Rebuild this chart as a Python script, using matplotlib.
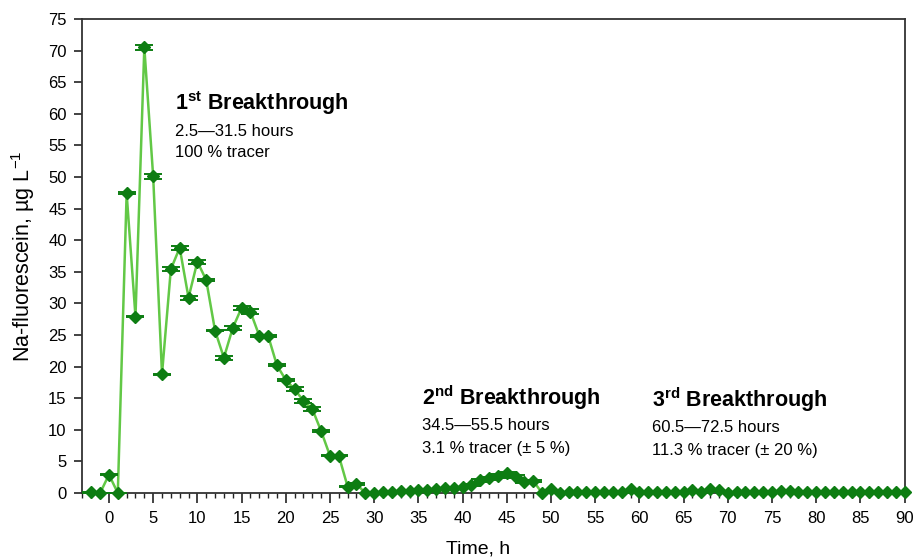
import matplotlib
matplotlib.use("Agg")
import matplotlib.pyplot as plt
from matplotlib.ticker import MultipleLocator

plt.rcParams['font.family'] = ['Liberation Sans', 'DejaVu Sans']
plt.rcParams['mathtext.fontset'] = 'custom'
plt.rcParams['mathtext.rm'] = 'Liberation Sans'
plt.rcParams['mathtext.bf'] = 'Liberation Sans:bold'

# Sampling times (h)
times = [-2, -1, 0, 1, 2, 3, 4, 5, 6, 7, 8, 9, 10, 11, 12, 13, 14, 15, 16, 17,
         18, 19, 20, 21, 22, 23, 24, 25, 26, 27, 28, 29, 30, 31, 32, 33, 34, 35,
         36, 37, 38, 39, 40, 41, 42, 43, 44, 45, 46, 47, 48, 49, 50, 51, 52, 53,
         54, 55, 56, 57, 58, 59, 60, 61, 62, 63, 64, 65, 66, 67, 68, 69, 70, 71,
         72, 73, 74, 75, 76, 77, 78, 79, 80, 81, 82, 83, 84, 85, 86, 87, 88, 89, 90]

# Na-fluorescein concentration (µg/L)
conc = [0.1, 0.0, 2.9, 0.0, 47.4, 27.9, 70.5, 50.1, 18.8, 35.4,
        38.8, 30.9, 36.6, 33.7, 25.7, 21.4, 26.1, 29.3, 28.7, 24.9,
        24.9, 20.2, 17.9, 16.4, 14.6, 13.3, 9.8, 5.9, 5.9, 1.0,
        1.4, 0.0, 0.0, 0.1, 0.2, 0.3, 0.35, 0.45, 0.55, 0.65,
        0.75, 0.85, 1.0, 1.3, 2.0, 2.3, 2.7, 3.1, 2.6, 1.8,
        1.9, 0.0, 0.6, 0.05, 0.1, 0.1, 0.1, 0.1, 0.1, 0.1,
        0.1, 0.7, 0.1, 0.1, 0.1, 0.1, 0.1, 0.1, 0.55, 0.15,
        0.7, 0.45, 0.05, 0.1, 0.1, 0.1, 0.1, 0.1, 0.3, 0.3,
        0.2, 0.15, 0.15, 0.15, 0.15, 0.15, 0.15, 0.15, 0.15, 0.15,
        0.15, 0.15, 0.15]

# Measurement error (µg/L); 0 = no error bar drawn
err = [0.05, 0.05, 0.1, 0.05, 0.15, 0.1, 0.45, 0.35, 0.1, 0.3,
       0.35, 0.3, 0.3, 0.2, 0.1, 0.3, 0.3, 0.3, 0.35, 0.15,
       0.15, 0.15, 0.15, 0.3, 0.3, 0.3, 0.15, 0.1, 0.1, 0.1,
       0.2, 0, 0, 0, 0, 0, 0, 0, 0, 0,
       0, 0, 0, 0.2, 0.25, 0.25, 0.25, 0.2, 0.25, 0.2,
       0.2] + [0] * 42

x_ticks = [0, 5, 10, 15, 20, 25, 30, 35, 40, 45, 50, 55, 60, 65, 70, 75, 80, 85, 90]
y_ticks = [0, 5, 10, 15, 20, 25, 30, 35, 40, 45, 50, 55, 60, 65, 70, 75]

line_color = '#62c846'
mark_color = '#0d7d12'

fig = plt.figure(figsize=(9.13, 5.6), dpi=100)
ax = fig.add_axes([82 / 913, 1 - 493 / 560, (905 - 82) / 913, (493 - 19) / 560])

ax.plot(times, conc, '-', color=line_color, lw=1.8, zorder=2, clip_on=False)
ex = [t for t, e in zip(times, err) if e > 0]
ey = [c for c, e in zip(conc, err) if e > 0]
ee = [e for e in err if e > 0]
ax.errorbar(ex, ey, yerr=ee, fmt='none', ecolor=mark_color, elinewidth=1.0,
            capsize=6.5, capthick=1.4, zorder=3, clip_on=False)
ax.plot(times, conc, 'D', color=mark_color, ms=6, mec=mark_color, zorder=4, clip_on=False)

ax.set_xlim(-3.05, 90.05)
ax.set_ylim(0, 75)
ax.set_xticks(x_ticks)
ax.set_yticks(y_ticks)
ax.xaxis.set_minor_locator(MultipleLocator(1))
ax.tick_params(axis='both', which='major', direction='out', length=6, width=1.2,
               labelsize=12, color='#222222')
ax.tick_params(axis='x', which='major', length=7, pad=6)
ax.tick_params(axis='y', which='major', pad=5)
ax.tick_params(axis='x', which='minor', direction='out', length=3.5, width=1.0, color='#222222')
for s in ax.spines.values():
    s.set_linewidth(1.3)
    s.set_color('#333333')

ax.set_xlabel('Time, h', fontsize=14)
ax.xaxis.set_label_coords((478 - 82) / 823, -(541 - 493) / 474)
ax.set_ylabel(r'Na-fluorescein, µg L$^{\mathregular{-1}}$', fontsize=15.5)
ax.yaxis.set_label_coords(-(82 - 37) / 823, 0.5)

def px(x, y):
    return x / 913, 1 - y / 560

blocks = [
    (175, 103, r'1$^{\mathbf{st}}$ Breakthrough', '2.5—31.5 hours', '100 % tracer'),
    (422, 398, r'2$^{\mathbf{nd}}$ Breakthrough', '34.5—55.5 hours', '3.1 % tracer (± 5 %)'),
    (652, 400, r'3$^{\mathbf{rd}}$ Breakthrough', '60.5—72.5 hours', '11.3 % tracer (± 20 %)'),
]
for x0, y0, title, l1, l2 in blocks:
    fig.text(*px(x0, y0), title, fontsize=15.5, fontweight='bold', va='center', ha='left')
    fig.text(*px(x0, y0 + 28), l1, fontsize=12, va='center', ha='left')
    fig.text(*px(x0, y0 + 50), l2, fontsize=12, va='center', ha='left')

fig.savefig('out.png', dpi=100)
